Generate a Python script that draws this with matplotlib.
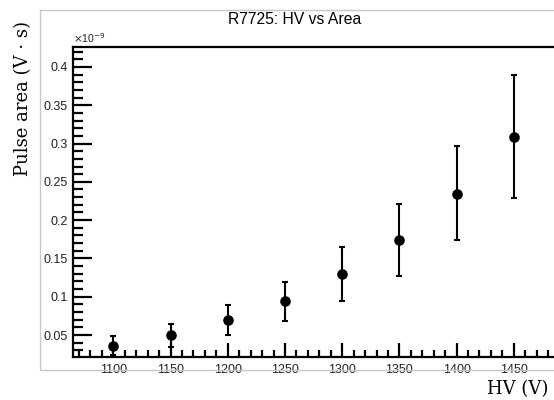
import matplotlib
matplotlib.use("Agg")
import matplotlib.pyplot as plt
from matplotlib.ticker import MultipleLocator, FuncFormatter
from matplotlib.patches import Rectangle

hv = [1100, 1150, 1200, 1250, 1300, 1350, 1400, 1450]
area = [0.036, 0.050, 0.0690, 0.094, 0.1296, 0.174, 0.234, 0.309]
err_lo = [0.012, 0.015, 0.019, 0.0253, 0.0352, 0.0466, 0.0605, 0.080]
err_hi = [0.0127, 0.0144, 0.0198, 0.0252, 0.0357, 0.047, 0.0627, 0.081]

W, H = 554, 400
fig = plt.figure(figsize=(W / 100, H / 100), dpi=100)

# pad frame
fig.patches.append(Rectangle((40 / W, 1 - 370 / H), (W - 40) / W + 0.01, (370 - 10) / H,
                             transform=fig.transFigure, fill=False,
                             edgecolor="#c8c8c8", lw=1.0))

ax = fig.add_axes([73.3 / W, 1 - 356.7 / H, (W - 73.3) / W + 0.001, (356.7 - 46.7) / H])
ax.errorbar(hv, area, yerr=[err_lo, err_hi], fmt="o", color="black",
            markersize=6.6, elinewidth=1.5, capsize=2, capthick=1.5)

ax.set_xlim(1065, 1485.6)
ax.set_ylim(0.0217, 0.4264)

for s in ["left", "bottom", "top"]:
    ax.spines[s].set_linewidth(1.6)
ax.spines["right"].set_visible(False)

ax.xaxis.set_major_locator(MultipleLocator(50))
ax.xaxis.set_minor_locator(MultipleLocator(10))
ax.yaxis.set_major_locator(MultipleLocator(0.05))
ax.yaxis.set_minor_locator(MultipleLocator(0.01))
ax.yaxis.set_major_formatter(FuncFormatter(lambda v, p: ("%g" % round(v, 3))))
ax.tick_params(axis="both", which="both", direction="in", width=1.6,
               labelsize=9, labelfontfamily="Liberation Sans", top=False, right=False,
               labelcolor="#222222")
ax.tick_params(axis="x", which="major", length=10, pad=5)
ax.tick_params(axis="x", which="minor", length=5)
ax.tick_params(axis="y", which="major", length=14, pad=4)
ax.tick_params(axis="y", which="minor", length=7)

fig.text(73 / W, 1 - 38 / H, r"$\times$10$^{-9}$", fontsize=7.5, family="Liberation Sans",
         ha="left", va="center", color="#222222")
fig.text(295 / W, 1 - 20 / H, "R7725: HV vs Area", fontsize=11.3,
         family="Liberation Sans", ha="center", va="center")
fig.text(23 / W, 1 - 21 / H, "Pulse area (V · s)", fontsize=13, family="DejaVu Serif",
         rotation=90, ha="center", va="top")
fig.text(548 / W, 1 - 389 / H, "HV (V)", fontsize=13, family="DejaVu Serif",
         ha="right", va="center")

fig.savefig("out.png", dpi=100)
